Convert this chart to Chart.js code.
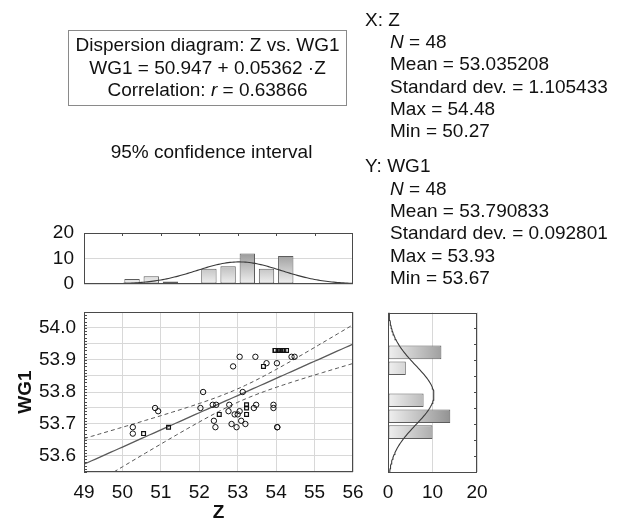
<!DOCTYPE html>
<html><head><meta charset="utf-8">
<script src="https://cdn.jsdelivr.net/npm/chart.js@4.4.1/dist/chart.umd.min.js"></script>
<style>
html,body{margin:0;padding:0;background:#fff;}
#wrap{position:relative;width:623px;height:522px;overflow:hidden;font-family:'Liberation Sans',Arial,sans-serif;color:#111;background:#fff;}
canvas{position:absolute;left:0;top:0;}
.t{position:absolute;font-size:19px;line-height:22.2px;white-space:nowrap;}
#box{left:68px;top:30px;width:277px;height:71px;border:1px solid #8a8a8a;text-align:center;padding-top:3px;line-height:22.5px;}
</style></head>
<body><div id="wrap">
<canvas id="cTop" width="623" height="522"></canvas>
<canvas id="cRight" width="623" height="522"></canvas>
<canvas id="cScatter" width="623" height="522"></canvas>
<div class="t" id="box">Dispersion diagram: Z vs. WG1<br>WG1 = 50.947 + 0.05362 ·Z<br>Correlation: <i>r</i> = 0.63866</div>
<div class="t" style="left:0;width:423px;top:140.6px;text-align:center">95% confidence interval</div>
<div id="statsArea"></div>
</div>
<script>
// ---------- data ----------
const circleZ   = [50.27,50.27,50.85,50.93, 52.10,52.03,52.35,52.44,52.38,52.42, 52.78,52.76,52.92,52.84,52.97,52.88, 53.00,53.05,53.09,53.20,53.13,53.42,53.48,53.05,53.46, 53.93,53.75,53.93, 54.03,54.02,54.40,54.48,54.03];
const circleWG1 = [53.69,53.67,53.75,53.74, 53.80,53.75,53.76,53.76,53.71,53.69, 53.76,53.74,53.73,53.70,53.69,53.88, 53.73,53.74,53.71,53.70,53.80,53.75,53.76,53.91,53.91, 53.76,53.89,53.75, 53.69,53.89,53.91,53.91,53.69];
const squareZ   = [50.55,51.20,52.52,53.23,53.23,53.23,53.67,53.97,53.98,54.05,54.08,54.12,54.16,54.20,54.27];
const squareWG1 = [53.67,53.69,53.73,53.76,53.75,53.73,53.88,53.93,53.93,53.93,53.93,53.93,53.93,53.93,53.93];

const zBinCenters  = [50.25,50.75,51.25,52.25,52.75,53.25,53.75,54.25];
const zBinCounts   = [2,3,1,6,7,12,6,11];
const wgBinCenters = [53.675,53.725,53.775,53.875,53.925];
const wgBinCounts  = [10,14,8,4,12];

const xTickValues = [49,50,51,52,53,54,55,56];
const yTickLabels = ['53.6','53.7','53.8','53.9','54.0'];
const histTickLabels = ['0','10','20'];

const regression = [50.947, 0.05362];      // intercept, slope
const correlation = 0.63866;
const statsZ   = [48, 53.035208, 1.105433, 54.48, 50.27];   // N, mean, sd, max, min
const statsWG1 = [48, 53.790833, 0.092801, 53.93, 53.67];
const tCrit = 2.0129;   // t(0.975, 46)

// ---------- stats text ----------
function statBlock(title, s, top){
  const lines = [[title,365],['<i>N</i> = '+s[0],390],['Mean = '+s[1].toFixed(6),390],
    ['Standard dev. = '+s[2].toFixed(6),390],['Max = '+s[3].toFixed(2),390],['Min = '+s[4].toFixed(2),390]];
  return lines.map((l,i)=>`<div class="t" style="left:${l[1]}px;top:${top+i*22.3}px">${l[0]}</div>`).join('');
}
document.getElementById('statsArea').innerHTML = statBlock('X: Z', statsZ, 8.8) + statBlock('Y: WG1', statsWG1, 155.4);

// ---------- derived model curves ----------
const n = statsZ[0];
const sE = statsWG1[2]*Math.sqrt((1-correlation*correlation)*(n-1)/(n-2));
const Sxx = (n-1)*statsZ[2]*statsZ[2];
const regLine = [], ciUp = [], ciLo = [];
for (let i=0;i<=70;i++){
  const x = 49 + i*0.1;
  const yhat = regression[0] + regression[1]*x;
  const h = tCrit*sE*Math.sqrt(1/n + (x-statsZ[1])**2/Sxx);
  regLine.push({x, y:yhat}); ciUp.push({x, y:yhat+h}); ciLo.push({x, y:yhat-h});
}
function pdf(v, m, s){ return Math.exp(-0.5*((v-m)/s)**2)/(s*Math.sqrt(2*Math.PI)); }
const zCurve = [];
const zBinW = zBinCenters[1]-zBinCenters[0];
for (let i=0;i<=120;i++){ const x=50+i*0.05; zCurve.push({x, y:n*zBinW*pdf(x,statsZ[1],statsZ[2])}); }
const wgCurve = [];
const wgBinW = wgBinCenters[1]-wgBinCenters[0];
for (let i=0;i<=100;i++){ const y=53.55+i*0.005; wgCurve.push({y, x:n*wgBinW*pdf(y,statsWG1[1],statsWG1[2])}); }

// ---------- chart setup ----------
const FONT = "'Liberation Sans', Arial, sans-serif";
Chart.defaults.font.family = FONT;
Chart.defaults.font.size = 19;
Chart.defaults.color = '#111';
Chart.defaults.animation = false;
Chart.defaults.plugins.legend.display = false;
Chart.defaults.plugins.tooltip.enabled = false;

const GRID = '#d8d8d8';
const frame = {
  id:'frame',
  afterDraw(chart, args, opts){
    const {ctx, chartArea:a} = chart;
    ctx.save();
    ctx.strokeStyle = '#4a4a4a'; ctx.lineWidth = 1;
    ctx.strokeRect(Math.round(a.left)+0.5, Math.round(a.top)+0.5, Math.round(a.right-a.left)-1, Math.round(a.bottom-a.top)-1);
    (opts.marks||[]).forEach(m=>{
      const sc = chart.scales[m.axis];
      for (let v=m.from; v<=m.to+1e-9; v+=m.step){
        const p = Math.round(sc.getPixelForValue(v))+0.5;
        ctx.beginPath();
        if (m.side==='left'){ ctx.moveTo(a.left, p); ctx.lineTo(a.left+m.len, p); }
        if (m.side==='right'){ ctx.moveTo(a.right, p); ctx.lineTo(a.right-m.len, p); }
        if (m.side==='top'){ ctx.moveTo(p, a.top); ctx.lineTo(p, a.top+m.len); }
        ctx.stroke();
      }
    });
    ctx.restore();
  }
};

// scatter
new Chart(document.getElementById('cScatter'), {
  type:'scatter',
  data:{ datasets:[
    { data: circleZ.map((z,i)=>({x:z,y:circleWG1[i]})), pointStyle:'circle', pointRadius:2.7, borderColor:'#111', borderWidth:1, backgroundColor:'rgba(255,255,255,0)' },
    { data: squareZ.map((z,i)=>({x:z,y:squareWG1[i]})), pointStyle:'rect', pointRadius:2.7, borderColor:'#111', borderWidth:1.2, backgroundColor:'rgba(255,255,255,0)' },
    { type:'line', data: regLine, borderColor:'#5a5a5a', borderWidth:1.3, pointRadius:0, fill:false },
    { type:'line', data: ciUp, borderColor:'#555', borderWidth:1, borderDash:[4,3], pointRadius:0, fill:false },
    { type:'line', data: ciLo, borderColor:'#555', borderWidth:1, borderDash:[4,3], pointRadius:0, fill:false }
  ]},
  options:{
    responsive:false, devicePixelRatio:1,
    layout:{ padding:{ left:16.5, top:312, right:270, bottom:0 } },
    scales:{
      x:{ type:'linear', min:xTickValues[0], max:xTickValues[xTickValues.length-1],
          afterBuildTicks: s=>{ s.ticks = xTickValues.map(v=>({value:v})); },
          ticks:{ padding:9.6, autoSkip:false, maxRotation:0, callback:v=>String(v) },
          grid:{ color:GRID, drawTicks:false }, border:{display:false},
          title:{ display:true, text:'Z', font:{weight:'bold', size:19, lineHeight:1}, padding:0, color:'#111' },
          afterFit: s=>{ s.height = 50; } },
      y:{ type:'linear', min:53.55, max:54.05,
          ticks:{ stepSize:0.05, padding:8, autoSkip:false, callback:v=>{ const lab=(Math.round(v*10)/10).toFixed(1); return Math.abs(v*10-Math.round(v*10))<1e-4 && yTickLabels.includes(lab) ? lab : ''; } },
          grid:{ color:GRID, drawTicks:false }, border:{display:false},
          title:{ display:true, text:'WG1', font:{weight:'bold', size:19, lineHeight:1}, padding:0, color:'#111' },
          afterFit: s=>{ s.width = 67.5; } }
    },
    plugins:{ frame:{ marks:[{axis:'y', side:'left', from:53.55, to:54.05, step:0.01, len:3}] } }
  },
  plugins:[frame]
});

function gradFill(axisId, maxV){
  return (c)=>{
    const ch = c.chart; if (!ch.chartArea) return '#cccccc';
    const sc = ch.scales[axisId];
    const p0 = sc.getPixelForValue(0), p1 = sc.getPixelForValue(maxV);
    const g = axisId==='y' ? ch.ctx.createLinearGradient(0,p0,0,p1) : ch.ctx.createLinearGradient(p0,0,p1,0);
    g.addColorStop(0,'#f0f0f0'); g.addColorStop(1,'#858585');
    return g;
  };
}

// top histogram
new Chart(document.getElementById('cTop'), {
  type:'bar',
  data:{ datasets:[
    { type:'line', data:zCurve, borderColor:'#3a3a3a', borderWidth:1.1, pointRadius:0, fill:false },
    { data: zBinCenters.map((c,i)=>({x:c,y:zBinCounts[i]})), backgroundColor:gradFill('y',15), borderColor:'#5c5c5c', borderWidth:1, borderSkipped:false, barPercentage:0.8, categoryPercentage:1 }
  ]},
  options:{
    responsive:false, devicePixelRatio:1,
    layout:{ padding:{ left:0, top:233, right:270, bottom:238 } },
    scales:{
      x:{ type:'linear', min:49, max:56, display:false, offset:false, ticks:{stepSize:1} },
      y:{ min:0, max:20, afterBuildTicks: s=>{ s.ticks = histTickLabels.map(v=>({value:+v})); },
          ticks:{ padding:10, autoSkip:false, callback:v=>String(v) }, grid:{ color:GRID, drawTicks:false }, border:{display:false},
          afterFit: s=>{ s.width = 84; } }
    },
    plugins:{ frame:{ marks:[{axis:'x', side:'top', from:50, to:55, step:1, len:3}] } }
  },
  plugins:[frame]
});

// right histogram
new Chart(document.getElementById('cRight'), {
  type:'bar',
  data:{ datasets:[
    { type:'line', indexAxis:'y', data:wgCurve, borderColor:'#3a3a3a', borderWidth:1.1, pointRadius:0, fill:false },
    { indexAxis:'y', data: wgBinCenters.map((c,i)=>({y:c,x:wgBinCounts[i]})), backgroundColor:gradFill('x',16), borderColor:'#5c5c5c', borderWidth:1, borderSkipped:false, barPercentage:0.85, categoryPercentage:1 }
  ]},
  options:{
    responsive:false, devicePixelRatio:1, indexAxis:'y',
    layout:{ padding:{ left:388, top:312.5, right:146, bottom:0 } },
    scales:{
      x:{ type:'linear', min:0, max:20, afterBuildTicks: s=>{ s.ticks = histTickLabels.map(v=>({value:+v})); },
          ticks:{ padding:9.6, autoSkip:false, maxRotation:0, callback:v=>String(v) }, grid:{ color:GRID, drawTicks:false }, border:{display:false},
          afterFit: s=>{ s.height = 50; } },
      y:{ type:'linear', min:53.55, max:54.05, display:false, offset:false, ticks:{stepSize:0.05} }
    },
    plugins:{ frame:{ marks:[{axis:'y', side:'right', from:53.6, to:54.0, step:0.05, len:3}] } }
  },
  plugins:[frame]
});
</script>
</body></html>
